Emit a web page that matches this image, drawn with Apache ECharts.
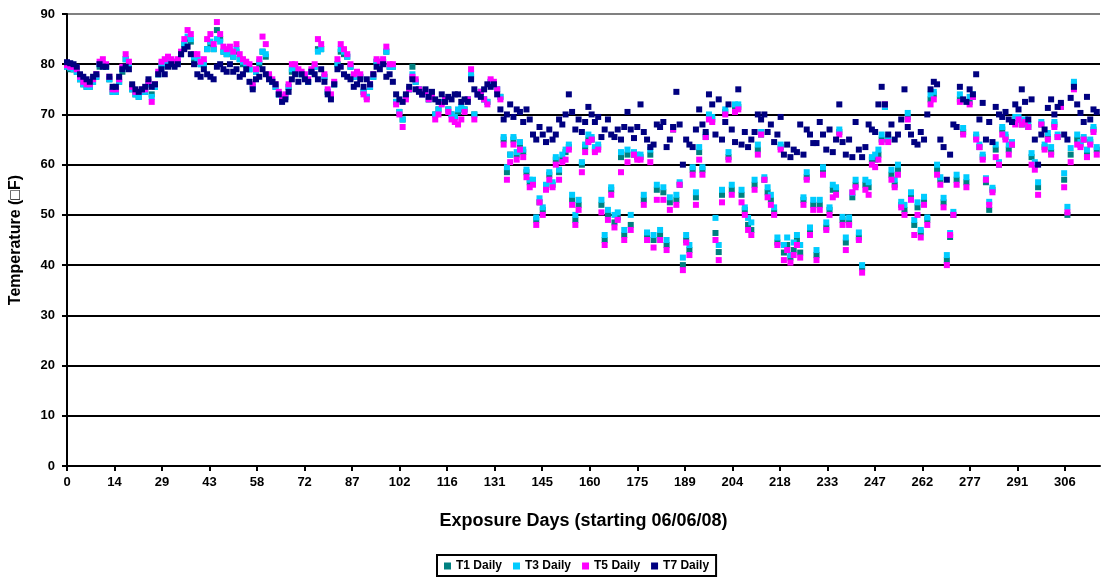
<!DOCTYPE html>
<html>
<head>
<meta charset="utf-8">
<script src="https://cdn.jsdelivr.net/npm/echarts@6/dist/echarts.min.js"></script>
<style>html,body{margin:0;padding:0;background:#fff}#c{width:1101px;height:580px}</style>
</head>
<body>
<div id="c"></div>
<script>
// Daily temperatures (°F), one value per exposure day starting at day 0
const T7 = [
80.4,80.2,80,79.5,78,77.5,77,76.5,77.5,78,
80,79.5,79.5,77.5,75.5,75.5,77.5,79,79.5,79,
76,75,74.5,75,75.5,77,75.5,76,78,79,
78,79.5,80,79.5,80,82,83,83.5,82,80,
78,77.5,79,78,77.5,77,79.5,80,79,78.5,
80,78.5,79,77.5,78,79,76.5,75,77,77.5,
79,78,77,76.5,76,74,72.5,73,74.5,77,
78,76.5,78,77,76.5,78.5,78,77,79,76.5,
74,73,76,79,79.5,78,77.5,77,75.5,76,
77,75.5,77,76,78,79.5,79,80,77.5,78,
76.5,74,73,72.5,74,75.5,77,75,74.5,74,
75,73.5,74.5,73,72.5,74,72.5,73.5,73,74,
74,72.5,73,72.5,77,75,74,73.5,75,76,
75.5,76,74,71,69,70,72,69.5,71,70.5,
68.5,71,69,66,65,67.5,66,64.5,67,65,
66,69,68,70,74,70.5,67,69,66.5,68.5,
71.5,70,68.5,69.5,65.5,67,69,66,65.5,67,
65,67.5,70.5,67,65.3,67.5,72,66.5,65,63.5,
64,68,67.5,68.5,63.5,65,67.5,74.5,68,60,
65,64,63.5,67,71,68,66.5,74,72,66,
73,65,68.5,72,67,64.5,75,64,66.5,63.5,
65,66.5,70,69,70,66.5,68,64.5,66,69.5,
62,64,61.5,63,62.5,68,62,67,66,64.3,
64.3,68.5,66,63,67,62.5,65,72,64.5,62,
65,61.5,68.5,63,61.5,63.5,68,67,66.5,72,
75.5,72,66,68,65,66,69,75,67.5,66,
64.5,64,66.5,65,70,75,76.5,76,65,63.5,
57,62,68,67.5,75.5,73,72.5,75,74,78,
69,72.3,65,68.5,64.5,71.5,70,69.5,70.5,69,
68.5,72,71,75,72.5,69,73,65,60,66,
67,71.3,73,70,71.5,72.3,66,65,73.3,75.5,
72,70.3,68.5,73.5,69,71,70.5];
const T5 = [
79.8,79.5,79.5,79,77.5,76.5,76,76,77,78,
80.5,81,80,77.5,75,75,77,79.5,82,80.5,
75.5,74.5,74.5,75,75,76.5,72.5,76,78.5,80.5,
81,81.5,81,80.5,81,82.5,85,86.8,86,82,
82,80.5,81,85,86,84,88.4,86,83.5,83,
83.5,82.5,84,82,81,80.5,80,76,79,81,
85.5,84,78,77,76,74.5,73.5,74,76,80,
80,79,78.5,78,77,79,80,85,84,78,
75,74,76.5,81,84,83,82,80,78,78.5,
78,74,73,76,78,81,80.5,81,83.5,80,
80,72,70,67.5,73,75,77.5,77,75,74,
74.5,73,73.5,69,70,72,73,70.5,69,68.5,
68,69,70.5,73,79,69,74,74.5,73,72,
77,76.5,75,73,64,57,60.5,64,61,63,
61.5,57.5,55.5,56,48,52.5,50,55,57,55.5,
60,57,60.5,61,63,52,48,51,58.5,62.5,
64.5,65,62.5,63,50.5,44,49,54,47.5,49,
58.5,45,60.5,47,62,61,61,52,45,60.5,
43.5,53,45,53,43,51,67,52,56,39,
44.5,42,58,52,61,58,65.5,69,68.5,45,
41,52.5,70,61,54,70.5,71,52.5,50,47,
46,55,62,66,57,53.5,52,50,44,63,
41,43,40.5,42,44,41.5,52,57,46,51,
41,51,58,47,50,53.5,54,66,48,43,
48,54.5,55.5,45,38.5,55,54,60,59.5,61,
64.5,72,64.5,57,55.5,58,51.5,50,69,53,
46,50,45.5,52,48,72,73,58,56,51.5,
40,46,50,56,72.5,66,55.5,72,73.5,65,
63.5,61,57,52,54.5,61.5,60,66,65,62,
64,68,69,68,68.5,67.5,60,59,54,68,
63,65,62,67.5,65.5,71.5,55.5,50.5,60.5,75,
64,63.5,65,61.5,64,66.5,62];
const T3 = [
79.5,79.3,79,78.5,77,76,75.5,75.5,76.5,77.5,
80,80,79.5,77,74.5,74.5,76.5,79,81,80,
75,74,73.5,74.5,74.5,76,73.5,75.5,78,80,
80,80.5,80.5,80,80.5,82,84,85.5,85,81.5,
81,80,80,83,84.5,83,85,84.5,82.5,82,
82.5,81.5,83,81,80.5,80,79,75.5,78.5,80.5,
82.5,82,77.5,76.5,75.5,74,73,73.5,75.5,79,
79.5,78.5,78,77.5,76.5,78.5,79.5,82.5,83,77.5,
74.5,73.5,76,80,83,82.5,81.5,79.5,77.5,78,
77.5,74.5,73.5,75.5,77.5,80.5,80,80.5,82.5,79.5,
79.5,72.5,70.5,69,73.5,75,78,76.5,75,74,
74.5,73,73.5,70,71,72.5,73,71,70,69.5,
71,71.5,71,73,78,70,74,74.5,73,72.5,
76.5,76,75,73.5,65.5,59.5,62,65.5,62.5,64.5,
63,59,57,57,49.5,53.3,51.5,56,58.5,56.5,
61.5,59,62,63,64,54,50,53,60.5,64,
66,65.5,63.5,64,53,46,51,55.5,50,50.5,
62.5,47,63,50,62.5,62,62,54,46.5,63,
46,56,47,55.5,45,53.5,67.5,54,56.5,41.5,
46,44,59.5,54.5,63.5,59.5,66,70,69.5,49.4,
44,55,71,62.5,56,72,72,55,51.5,49.4,
48.5,57,64,66.5,57.5,55.5,54,51.5,45.5,64,
44,45.5,42,44.5,46,44,53.5,58.5,47.5,53,
43,53,59.5,48.5,51.5,56,55.5,67,49.6,45.5,
49.5,54.4,57,46.5,40,57,56.5,61.5,62,63,
66,71.5,65.5,59,57,60,52.6,52,70.3,54.5,
49,52.5,47,53.6,49.5,74,74.5,60,57.5,53.4,
42,46.4,50.6,58,74,67.3,57.5,73.5,74,66,
64,62,57.3,52.6,55.4,64,60.5,67.5,66,64,
64.5,69.5,69.5,68.5,69,68,62.3,60.5,56.5,68.5,
64,66.3,63.5,68.5,66,72,58.3,51.6,63.3,76.5,
66,64.5,65.5,63,65,67.5,63.5];
const T1 = [
79.5,79,79,78.5,77,76,75.5,75.5,76.5,77.5,
79.5,80,79.5,77,74.5,74.5,76.5,78.5,81,80,
75,74,73.5,74.5,74.5,76,74,75.5,78,79.5,
80,80.5,80.5,80,80.5,82,84,85,84.5,81,
81,80,80,83,84,83,86.8,85,82.5,82,
82.5,81.5,82.5,81,80,80,79,75.5,78.5,80,
82.5,81.5,77.5,76.5,75.5,74,73,73.5,75.5,78.5,
79.5,78.5,78,77.5,76.5,78.5,79.5,83,83,77.5,
74.5,73.5,76,80,82.5,82,81.5,79.5,77.5,78,
77.5,74.5,73.5,75.5,77.5,80.5,80,80.5,82.5,79.5,
79.5,72.5,70.5,69,73.5,75,79.5,76.5,75,74,
74.5,73,73.5,70,71,72.5,73,71,70,69.5,
70.5,71,71,73,77.5,70,74,74.5,73,72.5,
76.5,76,75,73.5,65,58.5,62,65,62,64,
62.5,58.5,56.5,56.5,49,52.5,51,55.5,58,56,
61,58.5,61,62.5,63.5,53,49,52,60,63.5,
65,65,63,63.5,52,45,50,55,48.5,49.5,
61.5,46,62,48,62,61.5,61.5,53,46,62,
45,55,46,54.5,44,52.5,67,53,56,40,
45,43,59,53.5,62.5,59,65.5,69.5,69,46.4,
42.6,54,70.5,61.5,55,71,71.5,54,51,48,
47,56,63,66,57,54.5,53,50.5,44.5,63.5,
42.5,44,41.5,43,45,42.5,53,57.5,46.5,52,
42,52,58.5,47.5,51,55,55,66.5,49,44.5,
48.5,53.5,56,45.5,39.5,56,55.5,61,61,62,
65,71.5,65,58,56,59,52,51,69.5,53.5,
48,51.5,46.5,53,49,73,74,59,57,52.5,
41,45.6,50,57,73,66.5,56.5,72.5,73.5,65.5,
63.5,61.5,56.5,51,55,63,60,67,65.5,63,
64,69,69,68,68.5,67.5,61.5,60,55.5,68,
63.5,65.5,62.5,68,65.5,71.5,57,50,62,76,
65,64,65,62,64.5,67,63];

const seriesNames = ['T1 Daily', 'T3 Daily', 'T5 Daily', 'T7 Daily'];
const seriesColors = ['#008080', '#00CCFF', '#FF00FF', '#000080'];
const seriesData = [T1, T3, T5, T7];
const xTickInterval = 175 / 12;   // label step on the day axis
const xMax = 317;
const yTicks = [0, 10, 20, 30, 40, 50, 60, 70, 80, 90];

const font = 'Arial, "Liberation Sans", sans-serif';
const chart = echarts.init(document.getElementById('c'), null, {renderer: 'canvas'});

const gridColors = yTicks.map((t, i) => i === yTicks.length - 1 ? '#808080' : '#000000');

chart.setOption({
  animation: false,
  backgroundColor: '#ffffff',
  grid: {left: 67, right: 1, top: 14, bottom: 114, containLabel: false},
  xAxis: {
    type: 'value',
    min: 0,
    max: xMax,
    interval: xTickInterval,
    name: 'Exposure Days (starting 06/06/08)',
    nameLocation: 'middle',
    nameGap: 46,
    nameTextStyle: {fontFamily: font, fontWeight: 'bold', fontSize: 18, color: '#000'},
    axisLine: {show: true, onZero: false, lineStyle: {color: '#000', width: 2}},
    axisTick: {show: true, length: 5, inside: false, lineStyle: {color: '#000', width: 2}},
    axisLabel: {
      fontFamily: font, fontWeight: 'bold', fontSize: 13, color: '#000', margin: 10,
      showMaxLabel: false,
      formatter: v => String(Math.floor(v + 0.001))
    },
    splitLine: {show: false}
  },
  yAxis: {
    type: 'value',
    min: 0,
    max: 90,
    interval: 10,
    name: 'Temperature (\u25A1F)',
    nameLocation: 'middle',
    nameGap: 43,
    nameRotate: 90,
    nameTextStyle: {fontFamily: font, fontWeight: 'bold', fontSize: 16, color: '#000'},
    axisLine: {show: true, lineStyle: {color: '#000', width: 2}},
    axisTick: {show: true, length: 5, inside: false, lineStyle: {color: '#000', width: 2}},
    axisLabel: {fontFamily: font, fontWeight: 'bold', fontSize: 13, color: '#000', margin: 12},
    splitLine: {show: true, lineStyle: {color: gridColors, width: 2}}
  },
  legend: {
    left: 437,
    top: 555,
    orient: 'horizontal',
    icon: 'rect',
    itemWidth: 7,
    itemHeight: 7,
    itemGap: 11,
    padding: [5, 7, 4, 7],
    borderColor: '#000',
    borderWidth: 2,
    textStyle: {fontFamily: font, fontWeight: 'bold', fontSize: 12, color: '#000'},
    data: seriesNames
  },
  series: seriesData.map((arr, k) => ({
    name: seriesNames[k],
    type: 'scatter',
    symbol: 'rect',
    symbolSize: 6,
    itemStyle: {color: seriesColors[k], opacity: 1},
    emphasis: {disabled: true},
    z: 2 + k,
    data: arr.map((v, i) => [i, v])
  }))
});
</script>
</body>
</html>
